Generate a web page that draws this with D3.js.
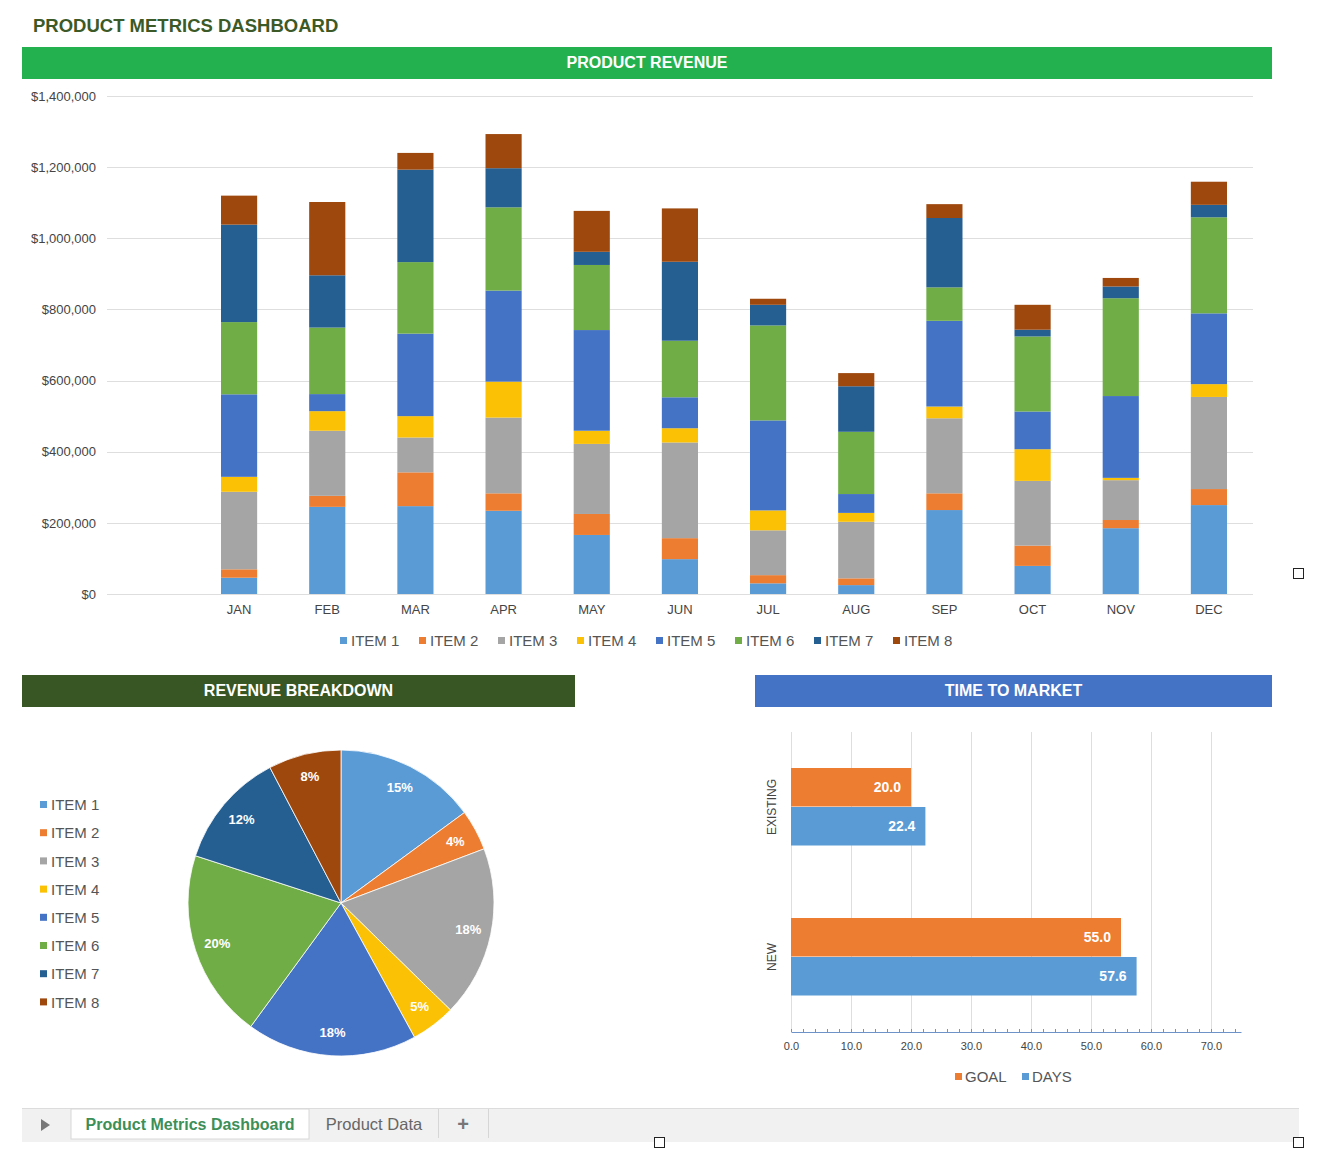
<!DOCTYPE html>
<html><head>
<title>Product Metrics Dashboard</title>
<style>
body {
    margin: 0;
    background: #fff;
    font-family: "Liberation Sans", Arial, sans-serif;
}
.grid line { stroke: #dedede; stroke-width: 1px; }
.axis text { fill: #444; }
.hdr text { fill: #fff; font-weight: bold; font-size: 16px; }
</style>
<script src="https://d3js.org/d3.v7.min.js"></script>
</head>
<body>
<svg id="dash" width="1320" height="1160"></svg>
<script>
// ---- data ----
const months = ["JAN","FEB","MAR","APR","MAY","JUN","JUL","AUG","SEP","OCT","NOV","DEC"];
const items = ["ITEM 1","ITEM 2","ITEM 3","ITEM 4","ITEM 5","ITEM 6","ITEM 7","ITEM 8"];
const itemColors = ["#5b9bd5","#ed7d31","#a5a5a5","#fbc104","#4472c4","#70ad47","#255e91","#9e480e"];

// monthly revenue per item
const item1 = [45800, 245000, 247000, 234000, 166000, 98000, 30000, 25000, 236000, 79000, 185000, 250000];
const item2 = [23600, 31000, 95000, 49000, 59000, 59000, 23000, 19000, 47000, 57000, 23000, 45000];
const item3 = [218000, 183000, 98000, 213000, 197000, 269000, 126000, 159000, 211000, 182000, 112000, 259000];
const item4 = [42000, 55000, 60000, 101000, 37000, 40000, 56000, 25000, 33000, 89000, 6500, 36000];
const item5 = [232000, 48000, 232000, 256000, 283000, 87000, 253000, 53000, 241000, 106000, 230000, 199000];
const item6 = [203000, 187000, 201000, 234000, 183000, 159000, 267000, 175000, 94000, 211000, 275000, 270000];
const item7 = [274000, 147000, 260000, 110000, 37000, 222000, 58000, 128000, 195000, 19000, 33000, 35000];
const item8 = [81500, 206000, 47000, 96000, 115000, 150000, 17000, 37000, 39000, 70000, 24000, 65000];
const revenueTicks = [0, 200000, 400000, 600000, 800000, 1000000, 1200000, 1400000];

// time to market
const marketCats = ["EXISTING","NEW"];
const goalDays = [20.0, 55.0];
const actualDays = [22.4, 57.6];
const marketSeries = ["GOAL","DAYS"];
const marketColors = ["#ed7d31","#5b9bd5"];
const marketTicks = [0, 10, 20, 30, 40, 50, 60, 70];

const series = [item1, item2, item3, item4, item5, item6, item7, item8];

const svg = d3.select("#dash");

// title
svg.append("text")
    .attr("x", 33).attr("y", 32)
    .attr("font-size", 18.5).attr("font-weight", "bold")
    .attr("fill", "#3b5a27")
    .text("PRODUCT METRICS DASHBOARD");

function header(x, y, w, color, label) {
    const g = svg.append("g").attr("class", "hdr");
    g.append("rect").attr("x", x).attr("y", y).attr("width", w).attr("height", 32).attr("fill", color);
    g.append("text").attr("x", x + w / 2).attr("y", y + 21)
        .attr("text-anchor", "middle").text(label);
}
header(22, 47, 1250, "#23b14f", "PRODUCT REVENUE");
header(22, 675, 553, "#375623", "REVENUE BREAKDOWN");
header(755, 675, 517, "#4472c4", "TIME TO MARKET");

// ---- stacked revenue bars ----
const rows = months.map((m, i) => {
    const r = {month: m};
    items.forEach((it, k) => r[it] = series[k][i]);
    return r;
});
const stacked = d3.stack().keys(items)(rows);

const y = d3.scaleLinear().domain([0, 1400000]).range([594, 96]);
const x = d3.scaleBand().domain(months).range([195, 1253])
    .paddingInner(0.59).paddingOuter(0.295);

svg.append("g").attr("class", "grid")
    .selectAll("line").data(revenueTicks).join("line")
    .attr("x1", 107).attr("x2", 1253)
    .attr("y1", d => Math.round(y(d)) + 0.5).attr("y2", d => Math.round(y(d)) + 0.5);

const yAxis = svg.append("g").attr("class", "axis")
    .attr("transform", "translate(96,0)")
    .call(d3.axisLeft(y).tickValues(revenueTicks).tickSize(0).tickPadding(0)
        .tickFormat(d => "$" + d3.format(",")(d)));
yAxis.select(".domain").remove();
yAxis.selectAll("text").attr("font-size", 13).attr("font-family", "Liberation Sans, Arial, sans-serif");

svg.append("g").selectAll("g").data(stacked).join("g")
    .attr("fill", (d, i) => itemColors[i])
    .selectAll("rect").data(d => d).join("rect")
    .attr("x", d => x(d.data.month))
    .attr("width", x.bandwidth())
    .attr("y", d => y(d[1]))
    .attr("height", d => y(d[0]) - y(d[1]));

const xAxis = svg.append("g").attr("class", "axis")
    .attr("transform", "translate(0,594)")
    .call(d3.axisBottom(x).tickSize(0).tickPadding(11));
xAxis.select(".domain").remove();
xAxis.selectAll("text").attr("font-size", 13).attr("fill", "#555")
    .attr("font-family", "Liberation Sans, Arial, sans-serif");

// legend under bars
const leg = svg.append("g").selectAll("g").data(items).join("g")
    .attr("transform", (d, i) => `translate(${340 + i * 79},641)`);
leg.append("rect").attr("x", 0).attr("y", -4).attr("width", 7).attr("height", 7)
    .attr("fill", (d, i) => itemColors[i]);
leg.append("text").attr("x", 11).attr("y", 0).attr("dy", "0.35em")
    .attr("font-size", 15).attr("fill", "#555").text(d => d);

// ---- pie ----
const totals = series.map(s => d3.sum(s));
const grand = d3.sum(totals);
const pie = d3.pie().sort(null).value(d => d)(totals);
const radius = 153;
const arc = d3.arc().innerRadius(0).outerRadius(radius);
const labelArc = d3.arc().innerRadius(130).outerRadius(130);
const pg = svg.append("g").attr("transform", "translate(341,903)");
pg.selectAll("path").data(pie).join("path")
    .attr("d", arc)
    .attr("fill", (d, i) => itemColors[i])
    .attr("stroke", "#fff").attr("stroke-width", 0.8);
pg.selectAll("text").data(pie).join("text")
    .attr("transform", d => `translate(${labelArc.centroid(d)})`)
    .attr("text-anchor", "middle").attr("dy", "0.35em")
    .attr("font-size", 13).attr("font-weight", "bold").attr("fill", "#fff")
    .text(d => Math.round(d.value / grand * 100) + "%");

const pleg = svg.append("g").selectAll("g").data(items).join("g")
    .attr("transform", (d, i) => `translate(40,${805 + i * 28.2})`);
pleg.append("rect").attr("x", 0).attr("y", -4).attr("width", 7).attr("height", 7)
    .attr("fill", (d, i) => itemColors[i]);
pleg.append("text").attr("x", 11).attr("y", 0).attr("dy", "0.35em")
    .attr("font-size", 15).attr("fill", "#555").text(d => d);

// ---- time to market ----
const tx = d3.scaleLinear().domain([0, 75]).range([791, 1241]);
const ty = d3.scaleBand().domain(marketCats).range([732, 1032]).paddingInner(0.48).paddingOuter(0.24);
const sub = d3.scaleBand().domain(marketSeries).range([0, ty.bandwidth()]);

svg.append("g").attr("class", "grid")
    .selectAll("line").data(marketTicks).join("line")
    .attr("x1", d => Math.round(tx(d)) + 0.5).attr("x2", d => Math.round(tx(d)) + 0.5)
    .attr("y1", 732).attr("y2", 1032);

const mRows = marketCats.map((c, i) => ({cat: c, GOAL: goalDays[i], DAYS: actualDays[i]}));
const mg = svg.append("g").selectAll("g").data(mRows).join("g")
    .attr("transform", d => `translate(0,${ty(d.cat)})`);
mg.selectAll("rect").data(d => marketSeries.map((s, k) => ({s, k, v: d[s]}))).join("rect")
    .attr("x", tx(0)).attr("y", d => sub(d.s))
    .attr("width", d => tx(d.v) - tx(0)).attr("height", sub.bandwidth() - 0.5)
    .attr("fill", d => marketColors[d.k]);
mg.selectAll("text").data(d => marketSeries.map((s, k) => ({s, k, v: d[s]}))).join("text")
    .attr("x", d => tx(d.v) - 10).attr("y", d => sub(d.s) + sub.bandwidth() / 2)
    .attr("dy", "0.35em").attr("text-anchor", "end")
    .attr("font-size", 14).attr("font-weight", "bold").attr("fill", "#fff")
    .text(d => d.v.toFixed(1));

const mxAxis = svg.append("g").attr("class", "axis")
    .attr("transform", "translate(0,1032)")
    .call(d3.axisBottom(tx).tickValues(marketTicks).tickSize(0).tickPadding(10).tickFormat(d3.format(".1f")));
mxAxis.select(".domain").attr("stroke", "#6d93c9");
mxAxis.selectAll("text").attr("font-size", 11).attr("fill", "#555")
    .attr("font-family", "Liberation Sans, Arial, sans-serif");
svg.append("g").selectAll("line").data(d3.range(0, 75, 2)).join("line")
    .attr("x1", d => tx(d) + 0.5).attr("x2", d => tx(d) + 0.5)
    .attr("y1", 1029).attr("y2", 1032).attr("stroke", "#6d93c9");

svg.append("g").selectAll("text").data(marketCats).join("text")
    .attr("transform", d => `translate(776,${ty(d) + ty.bandwidth() / 2}) rotate(-90)`)
    .attr("text-anchor", "middle")
    .attr("font-size", 12).attr("fill", "#444").text(d => d);

const mleg = svg.append("g").selectAll("g").data(marketSeries).join("g")
    .attr("transform", (d, i) => `translate(955,1077)`)
    .attr("transform", (d, i) => `translate(${955 + i * 67},1077)`);
mleg.append("rect").attr("x", 0).attr("y", -4).attr("width", 7).attr("height", 7)
    .attr("fill", (d, i) => marketColors[i]);
mleg.append("text").attr("x", 10).attr("y", 0).attr("dy", "0.35em")
    .attr("font-size", 15).attr("fill", "#555").text(d => d);

// ---- sheet tabs ----
const tabs = svg.append("g");
tabs.append("rect").attr("x", 22).attr("y", 1108).attr("width", 1277).attr("height", 34)
    .attr("fill", "#f1f1f1");
tabs.append("line").attr("x1", 22).attr("x2", 1299).attr("y1", 1108.5).attr("y2", 1108.5)
    .attr("stroke", "#dcdcdc");
tabs.append("path").attr("d", "M41,1119 L50,1125 L41,1131 Z").attr("fill", "#777");
tabs.append("rect").attr("x", 71).attr("y", 1109).attr("width", 238).attr("height", 30)
    .attr("fill", "#fff").attr("stroke", "#d8d8d8");
tabs.append("text").attr("x", 190).attr("y", 1130).attr("text-anchor", "middle")
    .attr("font-size", 16).attr("font-weight", "bold").attr("fill", "#3d8f58")
    .text("Product Metrics Dashboard");
tabs.append("text").attr("x", 374).attr("y", 1130).attr("text-anchor", "middle")
    .attr("font-size", 16.5).attr("fill", "#666").text("Product Data");
tabs.selectAll("line.sep").data([438.5, 488.5]).join("line")
    .attr("x1", d => d).attr("x2", d => d).attr("y1", 1109).attr("y2", 1138)
    .attr("stroke", "#d6d6d6");
tabs.append("text").attr("x", 463).attr("y", 1131).attr("text-anchor", "middle")
    .attr("font-size", 20).attr("font-weight", "bold").attr("fill", "#777").text("+");

// selection handles
svg.append("g").selectAll("rect").data([[1293, 568], [654, 1137], [1293, 1137]]).join("rect")
    .attr("x", d => d[0] + 0.5).attr("y", d => d[1] + 0.5).attr("width", 10).attr("height", 10)
    .attr("fill", "#fff").attr("stroke", "#222");
</script>
</body></html>
